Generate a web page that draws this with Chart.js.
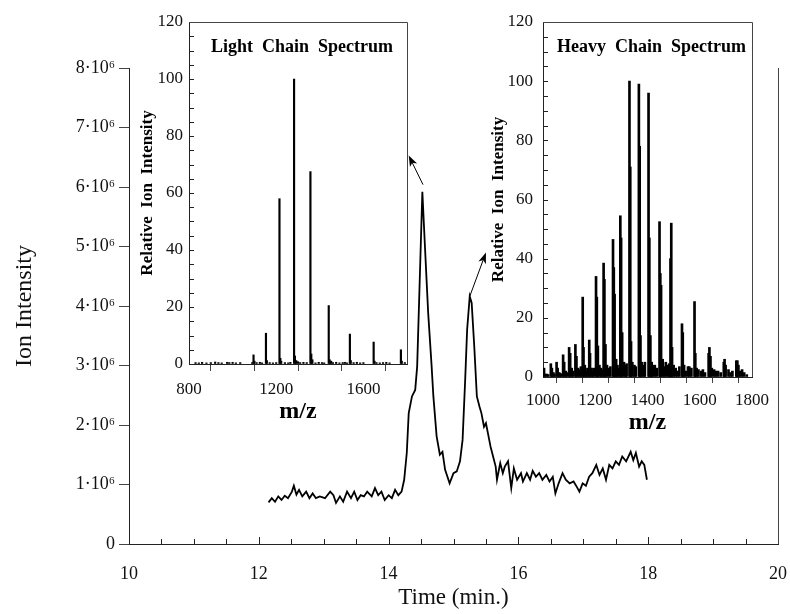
<!DOCTYPE html>
<html>
<head>
<meta charset="utf-8">
<script src="https://cdn.jsdelivr.net/npm/chart.js@4.4.0/dist/chart.umd.min.js"></script>
<style>
  body { margin: 0; background: #fff; }
  #wrap { position: relative; width: 790px; height: 614px; }
  #wrap canvas { position: absolute; }
</style>
</head>
<body>
<div id="wrap">
  <canvas id="mainChart" width="790" height="614" style="left:0;top:0"></canvas>
  <canvas id="lightChart" width="290" height="430" style="left:130px;top:0"></canvas>
  <canvas id="heavyChart" width="305" height="445" style="left:475px;top:0"></canvas>
</div>
<script>
// Chromatogram (time in min, intensity in units of 10^6)
const times = [12.15, 12.20, 12.25, 12.30, 12.35, 12.40, 12.45, 12.51, 12.54, 12.58, 12.62, 12.67, 12.73, 12.78, 12.83, 12.88, 12.94, 13.02, 13.10, 13.15, 13.19, 13.25, 13.30, 13.36, 13.42, 13.47, 13.52, 13.57, 13.62, 13.67, 13.74, 13.79, 13.84, 13.89, 13.94, 14.00, 14.05, 14.10, 14.15, 14.20, 14.24, 14.28, 14.31, 14.36, 14.41, 14.44, 14.48, 14.52, 14.56, 14.61, 14.66, 14.69, 14.74, 14.79, 14.83, 14.87, 14.94, 15.00, 15.05, 15.10, 15.14, 15.18, 15.21, 15.25, 15.28, 15.32, 15.36, 15.40, 15.43, 15.47, 15.50, 15.54, 15.57, 15.61, 15.65, 15.67, 15.72, 15.76, 15.79, 15.84, 15.89, 15.93, 15.98, 16.04, 16.07, 16.13, 16.18, 16.22, 16.27, 16.32, 16.37, 16.43, 16.48, 16.53, 16.57, 16.62, 16.68, 16.73, 16.79, 16.85, 16.90, 16.94, 16.99, 17.04, 17.09, 17.14, 17.20, 17.25, 17.30, 17.35, 17.40, 17.45, 17.50, 17.55, 17.60, 17.66, 17.73, 17.77, 17.81, 17.86, 17.90, 17.94, 17.98];
const intensity = [0.70, 0.77, 0.71, 0.80, 0.74, 0.81, 0.77, 0.88, 0.98, 0.83, 0.91, 0.80, 0.88, 0.77, 0.85, 0.77, 0.80, 0.77, 0.88, 0.82, 0.69, 0.80, 0.71, 0.88, 0.77, 0.88, 0.74, 0.82, 0.80, 0.88, 0.80, 0.94, 0.82, 0.88, 0.74, 0.82, 0.77, 0.91, 0.82, 0.88, 1.08, 1.53, 2.20, 2.48, 2.59, 2.98, 4.44, 5.92, 5.00, 3.88, 3.04, 2.48, 1.81, 1.50, 1.55, 1.25, 1.02, 1.19, 1.22, 1.39, 1.75, 2.76, 3.60, 4.16, 4.05, 3.32, 2.48, 2.31, 2.20, 1.97, 2.03, 1.81, 1.64, 1.47, 1.30, 1.08, 1.36, 1.19, 1.30, 1.39, 0.94, 1.27, 1.08, 1.19, 1.05, 1.19, 1.08, 1.23, 1.13, 1.19, 1.08, 1.16, 1.05, 1.13, 0.85, 1.02, 1.19, 1.08, 1.02, 1.05, 0.96, 0.88, 1.02, 0.98, 1.13, 1.19, 1.33, 1.16, 1.27, 1.08, 1.33, 1.27, 1.39, 1.33, 1.47, 1.39, 1.55, 1.41, 1.53, 1.30, 1.39, 1.33, 1.08];
const mainYTicks = [0, 1, 2, 3, 4, 5, 6, 7, 8];

// arrows from the two peaks to the insets (time, intensity)
const arrowFrom = [[14.53, 6.04], [15.25, 4.16]];
const arrowTo = [[14.31, 6.53], [15.50, 4.90]];

// Light chain spectrum
const lightMz = [830, 845, 860, 880, 900, 920, 935, 950, 975, 985, 1000, 1015, 1035, 1090, 1096, 1100, 1110, 1125, 1135, 1153, 1157, 1170, 1185, 1200, 1215, 1219, 1223, 1240, 1255, 1265, 1282, 1286, 1292, 1300, 1310, 1325, 1340, 1357, 1361, 1366, 1380, 1395, 1410, 1420, 1441, 1445, 1452, 1460, 1475, 1490, 1505, 1515, 1525, 1538, 1542, 1555, 1570, 1585, 1600, 1647, 1651, 1660, 1675, 1690, 1705, 1720, 1772, 1776, 1790];
const lightInt = [0.5, 0.4, 0.6, 0.4, 0.5, 0.7, 0.5, 0.4, 0.6, 0.5, 0.6, 0.4, 0.5, 0.5, 3.2, 1.0, 0.5, 0.6, 0.4, 10.8, 1.2, 0.5, 0.4, 0.5, 58, 2.0, 1.0, 0.5, 0.4, 0.6, 100, 2.8, 1.2, 0.8, 0.5, 0.6, 0.5, 67.5, 3.5, 1.5, 0.4, 0.6, 0.5, 0.4, 20.5, 1.5, 1.0, 0.5, 0.6, 0.4, 0.5, 0.6, 0.4, 10.5, 1.2, 0.5, 0.6, 0.4, 0.5, 7.7, 1.0, 0.5, 0.4, 0.5, 0.6, 0.4, 5.0, 1.0, 0.5];

// Heavy chain spectrum
const heavyMz = [1004, 1008, 1015, 1020, 1030, 1034, 1040, 1044, 1052, 1056, 1062, 1066, 1070, 1077, 1081, 1087, 1092, 1100, 1104, 1110, 1115, 1124, 1128, 1134, 1140, 1145, 1152, 1155, 1160, 1166, 1170, 1177, 1180, 1186, 1190, 1195, 1203, 1206, 1210, 1216, 1222, 1225, 1232, 1235, 1239, 1245, 1252, 1258, 1268, 1271, 1274, 1280, 1285, 1288, 1296, 1299, 1303, 1310, 1316, 1320, 1331, 1334, 1337, 1342, 1350, 1355, 1367, 1370, 1373, 1378, 1385, 1390, 1404, 1407, 1411, 1416, 1420, 1428, 1435, 1446, 1449, 1452, 1458, 1465, 1470, 1478, 1483, 1488, 1491, 1494, 1500, 1508, 1515, 1522, 1532, 1535, 1540, 1546, 1555, 1560, 1568, 1580, 1583, 1588, 1595, 1605, 1612, 1620, 1634, 1637, 1641, 1646, 1655, 1662, 1670, 1680, 1692, 1695, 1699, 1710, 1718, 1725, 1740, 1744, 1748, 1754, 1762, 1770, 1780];
const heavyInt = [3, 1, 1, 0.8, 4.5, 3, 1.5, 1, 5, 3, 1.5, 1.2, 1, 7.5, 5, 2, 1.5, 10, 8, 3, 2, 11, 7, 3, 2.5, 3.5, 27, 10, 4, 2, 3, 12.5, 8, 3, 2, 3, 34, 27, 10.5, 4, 3, 2.5, 38.5, 33, 11, 4, 3, 3.5, 46.5, 37, 28, 6, 4, 3, 54.5, 47, 15, 5, 4, 4.5, 100, 71, 12, 5, 4, 3.5, 99, 78, 14, 5, 4, 5, 96, 47, 14, 5, 4, 4, 3, 52.5, 35, 31, 6, 3.5, 5, 4, 4.5, 40, 52, 10, 4, 3, 2, 3.5, 18, 15, 4, 2, 3.5, 3.5, 3, 25.5, 8, 3, 2.5, 2, 2.5, 1.5, 8, 10, 7, 3, 2.5, 2, 2, 1.5, 5, 6, 4, 2.5, 1.5, 2, 5.5, 5.5, 4, 2, 2.5, 1.5, 0.8];
const specYTicks = [0, 20, 40, 60, 80, 100, 120];

Chart.defaults.font.family = "'Liberation Serif', 'Times New Roman', serif";
Chart.defaults.color = "#111";

// inward ticks, frames, inset titles and arrows
const decorPlugin = {
  id: "decor",
  afterDraw(chart, args, opts) {
    const ctx = chart.ctx;
    const a = chart.chartArea;
    ctx.save();
    ctx.strokeStyle = "#222";
    ctx.fillStyle = "#000";
    ctx.lineWidth = 1;
    (opts.inTicks || []).forEach(t => {
      const s = chart.scales[t.axis];
      for (let v = s.min; v <= s.max + 1e-9; v += t.step) {
        const p = Math.round(s.getPixelForValue(v)) + 0.5;
        const major = Math.abs(v / t.majorStep - Math.round(v / t.majorStep)) < 1e-6;
        const len = major ? t.majorLen : t.len;
        ctx.beginPath();
        if (s.isHorizontal()) {
          ctx.moveTo(p, a.bottom);
          ctx.lineTo(p, a.bottom - len);
        } else {
          ctx.moveTo(a.left, p);
          ctx.lineTo(a.left + len, p);
        }
        ctx.stroke();
      }
    });
    ctx.strokeStyle = "#444";
    if (opts.frame === "box") {
      ctx.beginPath();
      ctx.moveTo(a.left, a.top + 0.5);
      ctx.lineTo(a.right + 0.5, a.top + 0.5);
      ctx.lineTo(a.right + 0.5, a.bottom);
      ctx.stroke();
    } else if (opts.frame === "right") {
      ctx.beginPath();
      ctx.moveTo(a.right + 0.5, a.top);
      ctx.lineTo(a.right + 0.5, a.bottom);
      ctx.stroke();
    }
    if (opts.label) {
      ctx.font = "bold 18px 'Liberation Serif', serif";
      ctx.textAlign = "center";
      ctx.textBaseline = "alphabetic";
      ctx.fillText(opts.label, (a.left + a.right) / 2 + 4, a.top + 30);
    }
    if (opts.arrows) {
      const xs = chart.scales.x, ys = chart.scales.y;
      ctx.strokeStyle = "#000";
      opts.arrows.from.forEach((f, i) => {
        const t = opts.arrows.to[i];
        const x1 = xs.getPixelForValue(f[0]), y1 = ys.getPixelForValue(f[1]);
        const x2 = xs.getPixelForValue(t[0]), y2 = ys.getPixelForValue(t[1]);
        const ang = Math.atan2(y2 - y1, x2 - x1);
        ctx.beginPath();
        ctx.moveTo(x1, y1);
        ctx.lineTo(x2 - 6 * Math.cos(ang), y2 - 6 * Math.sin(ang));
        ctx.stroke();
        ctx.beginPath();
        ctx.moveTo(x2, y2);
        ctx.lineTo(x2 - 11 * Math.cos(ang) + 4 * Math.sin(ang), y2 - 11 * Math.sin(ang) - 4 * Math.cos(ang));
        ctx.lineTo(x2 - 8 * Math.cos(ang), y2 - 8 * Math.sin(ang));
        ctx.lineTo(x2 - 11 * Math.cos(ang) - 4 * Math.sin(ang), y2 - 11 * Math.sin(ang) + 4 * Math.cos(ang));
        ctx.closePath();
        ctx.fill();
      });
    }
    ctx.restore();
  }
};

// ===========================
// Main chromatogram
// ===========================
new Chart(document.getElementById("mainChart"), {
  type: "line",
  data: {
    datasets: [{
      data: times.map((t, i) => ({ x: t, y: intensity[i] })),
      borderColor: "#000",
      borderWidth: 1.8,
      pointRadius: 0,
      tension: 0,
      fill: false
    }]
  },
  options: {
    responsive: false,
    animation: false,
    layout: { padding: { left: 0, right: 12, top: 68, bottom: 0 } },
    plugins: {
      legend: { display: false },
      tooltip: { enabled: false },
      decor: {
        frame: "right",
        inTicks: [{ axis: "x", step: 0.5, majorStep: 2, len: 5, majorLen: 7 }],
        arrows: { from: arrowFrom, to: arrowTo }
      }
    },
    scales: {
      x: {
        type: "linear",
        min: 10,
        max: 20,
        afterFit: s => { s.height = 70; s.paddingLeft = 0; s.paddingRight = 0; },
        ticks: { stepSize: 2, padding: 19, maxRotation: 0, font: { size: 18 }, color: "#111" },
        grid: { drawOnChartArea: false, drawTicks: false },
        border: { color: "#222", width: 1 },
        title: { display: true, text: "Time (min.)", font: { size: 23 }, padding: { bottom: 2 }, color: "#111" }
      },
      y: {
        min: 0,
        max: 8,
        afterFit: s => { s.width = 129; s.paddingTop = 0; s.paddingBottom = 0; },
        afterBuildTicks: s => { s.ticks = mainYTicks.map(v => ({ value: v })); },
        ticks: {
          padding: 4,
          font: { size: 18 },
          color: "#111",
          callback: v => v === 0 ? "0" : v + "·10⁶"
        },
        grid: { drawOnChartArea: false, tickLength: 10, color: "#444" },
        border: { color: "#222", width: 1 },
        title: { display: true, text: "Ion Intensity", font: { size: 24 }, padding: { top: 10 }, color: "#111" }
      }
    }
  },
  plugins: [decorPlugin]
});

// ===========================
// Spectrum insets
// ===========================
function spectrumChart(id, mz, vals, cfg) {
  return new Chart(document.getElementById(id), {
    type: "bar",
    data: {
      datasets: [{
        data: mz.map((m, i) => ({ x: m, y: vals[i] })),
        backgroundColor: "#000",
        borderWidth: 0,
        barThickness: cfg.barWidth,
        grouped: false
      }]
    },
    options: {
      responsive: false,
      animation: false,
      layout: { padding: { left: 0, right: cfg.padRight, top: 22, bottom: 0 } },
      plugins: {
        legend: { display: false },
        tooltip: { enabled: false },
        decor: {
          frame: "box",
          label: cfg.label,
          inTicks: [{ axis: "y", step: 5, majorStep: 20, len: 5, majorLen: 5 }]
        }
      },
      scales: {
        x: {
          type: "linear",
          min: cfg.xMin,
          max: 1800,
          offset: false,
          afterFit: s => { s.height = cfg.xHeight; s.paddingLeft = 0; s.paddingRight = 0; },
          ticks: {
            stepSize: cfg.tickStep,
            padding: cfg.xPad,
            maxRotation: 0,
            autoSkip: false,
            font: { size: 17 },
            color: "#111",
            callback: v => (v % cfg.labelStep === 0 ? v : "")
          },
          grid: { drawOnChartArea: false, tickLength: cfg.xTickLen, color: "#444" },
          border: { color: "#222", width: 1 },
          title: { display: true, text: "m/z", font: { size: 24, weight: "bold" }, padding: { bottom: cfg.titlePad }, color: "#000" }
        },
        y: {
          min: 0,
          max: 120,
          afterFit: s => { s.width = cfg.yWidth; s.paddingTop = 0; s.paddingBottom = 0; },
          afterBuildTicks: s => { s.ticks = specYTicks.map(v => ({ value: v })); },
          ticks: { padding: cfg.yPad, font: { size: 17 }, color: "#111" },
          grid: { drawOnChartArea: false, drawTicks: false },
          border: { color: "#222", width: 1 },
          title: { display: true, text: "Relative  Ion  Intensity", font: { size: 17, weight: "bold" }, padding: { top: cfg.yTitlePad }, color: "#000" }
        }
      }
    },
    plugins: [decorPlugin]
  });
}

spectrumChart("lightChart", lightMz, lightInt, {
  label: "Light  Chain  Spectrum", barWidth: 1.5,
  padRight: 13, xMin: 800, tickStep: 200, labelStep: 400,
  xHeight: 66, xPad: 8, xTickLen: 7, titlePad: 4,
  yWidth: 59, yPad: 6, yTitlePad: 7
});

spectrumChart("heavyChart", heavyMz, heavyInt, {
  label: "Heavy  Chain  Spectrum", barWidth: 2,
  padRight: 28, xMin: 1000, tickStep: 100, labelStep: 200,
  xHeight: 68, xPad: 7, xTickLen: 6, titlePad: 8,
  yWidth: 68, yPad: 10, yTitlePad: 13
});
</script>
</body>
</html>
